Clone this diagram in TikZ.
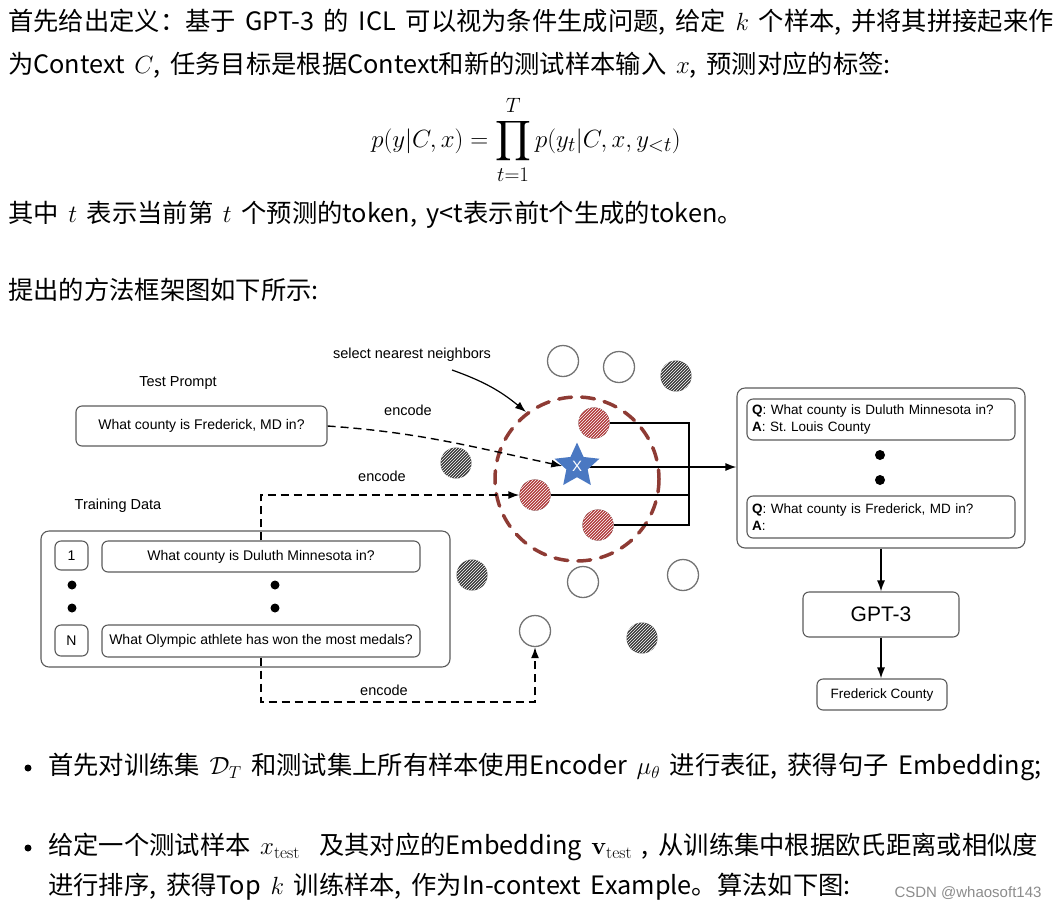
\documentclass[tikz,border=0pt]{standalone}
\usepackage{amsmath}
\usepackage{amssymb}
\usepackage[no-math]{fontspec}
\newfontfamily\cjk[WordSpace=1.7]{Noto Sans CJK SC}
\newfontfamily\figfont{Liberation Sans}
\usetikzlibrary{positioning,shapes.geometric,patterns,arrows.meta}
\definecolor{ringrot}{HTML}{8E3B34}
\definecolor{punktrot}{HTML}{B0393A}
\definecolor{punktgrau}{HTML}{383838}
\definecolor{sternblau}{HTML}{4A78C2}
\definecolor{randgrau}{HTML}{5A5A5A}

\begin{document}
\begin{tikzpicture}[x=1pt, y=-1pt,
        every node/.style={font=\figfont\fontsize{14}{17}\selectfont},
        zeile/.style={anchor=west, inner sep=0pt, font=\cjk\fontsize{25.3}{29}\selectfont},
        kasten/.style={draw=randgrau, line width=1.1pt, rounded corners=8pt},
        frage/.style={draw=randgrau, line width=1.1pt, rounded corners=6pt, inner sep=0pt},
        qa/.style={frage, align=left, text width=258, minimum width=268,
                   font=\figfont\fontsize{13.5}{17.5}\selectfont},
        leer/.style={circle, draw=black!55, line width=1.3pt, fill=white,
                     minimum size=31, inner sep=0pt},
        grau/.style={circle, preaction={fill=punktgrau}, pattern=north east lines,
                     pattern color=white!65, minimum size=31, inner sep=0pt},
        rot/.style={grau, preaction={fill=punktrot}},
        kante/.style={draw=black, line width=1.4pt, -{Latex[length=11pt,width=8pt]}},
        kodiert/.style={kante, dash pattern=on 8pt off 5pt},
        marke/.style={font=\figfont\fontsize{14.5}{17}\selectfont}
    ]
    \useasboundingbox (0,0) rectangle (1059,911);

    % Fliesstext oben
    \node[zeile] (l1) at (8,22) {首先给出定义：基于 GPT-3 的 ICL 可以视为条件生成问题, 给定 $k$ 个样本, 并将其拼接起来作};
    \node[zeile] (l2) at (8,65) {为Context $C$, 任务目标是根据Context和新的测试样本输入 $x$, 预测对应的标签:};
    \node[inner sep=0pt, font=\fontsize{28}{32}\selectfont] (formel) at (526,140)
        {$\displaystyle p(y|C,x)=\prod_{t=1}^{T}p(y_t|C,x,y_{<t})$};
    \node[zeile] (l3) at (8,215) {其中 $t$ 表示当前第 $t$ 个预测的token, y<t表示前t个生成的token。};
    \node[zeile] (l4) at (8,290) {提出的方法框架图如下所示:};

    % Test Prompt
    \node[marke] (tplabel) at (178,383) {Test Prompt};
    \node[frage, minimum width=251, minimum height=40] (prompt) at (201.5,426)
        {What county is Frederick, MD in?};

    % Training Data
    \node[marke] (tdlabel) at (118,506) {Training Data};
    \node[kasten, minimum width=409, minimum height=136] (train) at (245.5,599) {};
    \node[frage, minimum width=33, minimum height=29] (n1) at (71.5,555.5) {1};
    \node[frage, minimum width=318, minimum height=31] (q1) at (261,556.5)
        {What county is Duluth Minnesota in?};
    \node[frage, minimum width=33, minimum height=31] (nN) at (71.5,640.5) {N};
    \node[frage, minimum width=318, minimum height=32] (qN) at (261,641)
        {What Olympic athlete has won the most medals?};
    \foreach \x in {72,275}
        \foreach \y in {585,608}
            \fill (\x,\y) circle (4.5);

    % Einbettungsraum
    \draw[ringrot, line width=3.5pt, dash pattern=on 13pt off 10pt, line cap=round]
        (577,479) circle (82);
    \node[leer] (w1) at (563,361) {};
    \node[leer] (w2) at (619,367) {};
    \node[leer] (w3) at (583,582) {};
    \node[leer] (w4) at (535,631) {};
    \node[leer] (w5) at (683,575) {};
    \node[grau] (d1) at (456,463) {};
    \node[grau] (d2) at (676,376) {};
    \node[grau] (d3) at (472,575) {};
    \node[grau] (d4) at (642,638) {};
    \coordinate (bus) at (689,0);
    \coordinate (boden) at (0,702);

    % Kontext
    \node[kasten, minimum width=288, minimum height=160] (ctx) at (881,468) {};
    \node[qa, minimum height=41] (qa1) at (881,419.5)
        {\textbf{Q}: What county is Duluth Minnesota in?\\\textbf{A}: St.\ Louis County};
    \node[qa, minimum height=42] (qa2) at (881,517)
        {\textbf{Q}: What county is Frederick, MD in?\\\textbf{A}:};
    \fill (880,455) circle (5);
    \fill (880,480) circle (5);

    \node[rot] (r1) at (594,423) {};
    \node[rot] (r2) at (535,495) {};
    \node[rot] (r3) at (598,525) {};
    \draw[line width=1.4pt] (r1.east) -- (r1.east -| bus) |- (r3.east);
    \draw[line width=1.4pt] (r2.east) -- (r2.east -| bus);
    \draw[kante] (577,467) -- (ctx.west |- 0,467);
    \node[star, star points=5, star point ratio=2.1, fill=sternblau, minimum size=47,
          inner sep=0pt, text=white, font=\figfont\fontsize{15}{17}\selectfont] (stern) at (577,466) {X};

    \node[frage, minimum width=156, minimum height=45,
          font=\figfont\fontsize{21}{24}\selectfont] (gpt) at (881,614.5) {GPT-3};
    \node[frage, minimum width=130, minimum height=31,
          font=\figfont\fontsize{13.5}{16}\selectfont] (antwort) at (882,694.5) {Frederick County};
    \draw[kante] (ctx.south -| gpt) -- (gpt.north);
    \draw[kante] (gpt.south) -- (antwort.north -| gpt);

    % Kodierung
    \draw[kodiert] (prompt.east) to[out=-4, in=168] (stern.west);
    \node[marke] at (408,410) {encode};
    \draw[kodiert] (q1.north) |- (r2.west);
    \node[marke] at (382,476) {encode};
    \draw[kodiert] (qN.south) -- (qN.south |- boden) -| (w4.south);
    \node[marke] at (384,690) {encode};

    \node[marke] (sel) at (412,355) {select nearest neighbors};
    \draw[kante, line width=1.2pt] (452,370) to[bend left=10] (526,412);

    % Aufzaehlung unten
    \fill (28,768) circle (3.5);
    \node[zeile] (b1) at (48,767) {首先对训练集 $\mathcal{D}_T$ 和测试集上所有样本使用Encoder $\mu_\theta$ 进行表征, 获得句子 Embedding;};
    \fill (28,848) circle (3.5);
    \node[zeile] (b2) at (48,847) {给定一个测试样本 $x_{\mathrm{test}}$ \ 及其对应的Embedding $\mathbf{v}_{\mathrm{test}}$ , 从训练集中根据欧氏距离或相似度};
    \node[zeile] (b3) at (48,887) {进行排序, 获得Top $k$ 训练样本, 作为In-context Example。算法如下图:};
    \node[anchor=east, text=black!45, font=\figfont\fontsize{15}{18}\selectfont] (wm) at (1045,893) {CSDN @whaosoft143};
\end{tikzpicture}
\end{document}
